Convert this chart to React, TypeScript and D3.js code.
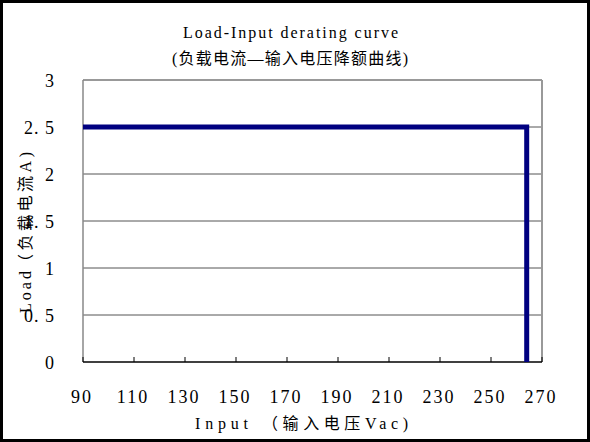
import React from "react";
import * as d3 from "d3";

const xTicks = [90, 110, 130, 150, 170, 190, 210, 230, 250, 270];
const yTicks = [0, 0.5, 1, 1.5, 2, 2.5, 3];
const yTickLabels = ["0", "0. 5", "1", "1. 5", "2", "2. 5", "3"];
const curveInput = [90, 264, 264];
const curveLoad = [2.5, 2.5, 0];

const titleLine1 = "Load-Input derating curve";
const titleLine2 = "(负载电流—输入电压降额曲线)";
const xTitleLatin = "Input";
const xTitleCjk = "（输入电压Vac)";
const yTitleLatin = "Load";
const yTitleCjk = "（负载电流A)";

export default function App() {
  const W = 590, H = 442;
  const left = 83, right = 542, top = 80, bottom = 362;
  const x = d3.scaleLinear().domain([90, 270]).range([left, right]);
  const y = d3.scaleLinear().domain([0, 3]).range([bottom, top]);
  const pts = curveInput.map((v, i) => [x(v), y(curveLoad[i])] as [number, number]);
  const line = d3.line()(pts) || "";
  const font = "'Liberation Serif', 'Noto Sans CJK SC', serif";
  return (
    <svg width={W} height={H} style={{ position: "absolute", left: 0, top: 0, background: "#fff" }}>
      <rect x={1.5} y={1.5} width={W - 3} height={H - 3} fill="#fff" stroke="#000" strokeWidth={3} />
      {yTicks.filter(t => t > 0 && t < 3).map(t => (
        <line key={t} x1={left} x2={right} y1={y(t)} y2={y(t)} stroke="#555" strokeWidth={1} />
      ))}
      <line x1={left} x2={right} y1={y(3)} y2={y(3)} stroke="#999" strokeWidth={2} />
      <line x1={right} x2={right} y1={top} y2={bottom} stroke="#999" strokeWidth={2} />
      <line x1={left} x2={left} y1={top} y2={bottom} stroke="#888" strokeWidth={1.5} />
      <line x1={left} x2={right} y1={bottom} y2={bottom} stroke="#000" strokeWidth={1.5} />
      {xTicks.map(t => (
        <line key={t} x1={x(t)} x2={x(t)} y1={bottom} y2={bottom - 5} stroke="#000" strokeWidth={1} />
      ))}
      <path d={line} fill="none" stroke="#000080" strokeWidth={5} strokeLinejoin="miter" />
      {xTicks.map(t => (
        <text key={t} x={x(t) - 1} y={403} textAnchor="middle" fontFamily={font} fontSize={18} letterSpacing={2} fill="#000">{t}</text>
      ))}
      {yTicks.map((t, i) => (
        <text key={t} x={55} y={y(t) + 7} textAnchor="end" fontFamily={font} fontSize={18} letterSpacing={1} fill="#000">{yTickLabels[i]}</text>
      ))}
      <text x={183} y={38} textLength={215} lengthAdjust="spacing" fontFamily={font} fontSize={16} fill="#000">{titleLine1}</text>
      <text x={172} y={64} textLength={236} lengthAdjust="spacing" fontFamily={font} fontSize={16} fill="#000">{titleLine2}</text>
      <text x={195} y={429} textLength={53} lengthAdjust="spacing" fontFamily={font} fontSize={16} fill="#000">{xTitleLatin}</text>
      <text x={262} y={429} textLength={146} lengthAdjust="spacing" fontFamily={font} fontSize={16} fill="#000">{xTitleCjk}</text>
      <g transform="translate(31,313) rotate(-90)">
        <text x={0} y={0} textLength={42} lengthAdjust="spacing" fontFamily={font} fontSize={16} fill="#000">{yTitleLatin}</text>
        <text x={43} y={0} textLength={118} lengthAdjust="spacing" fontFamily={font} fontSize={16} fill="#000">{yTitleCjk}</text>
      </g>
    </svg>
  );
}
